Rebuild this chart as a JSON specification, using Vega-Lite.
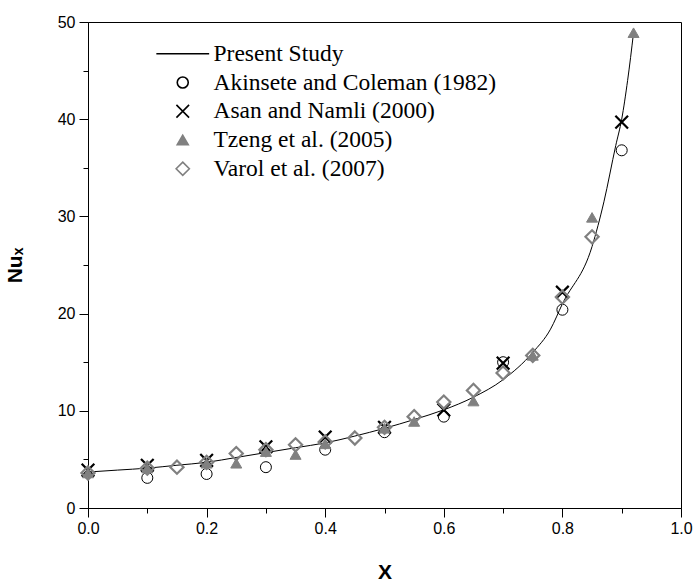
{
  "$schema": "https://vega.github.io/schema/vega-lite/v6.json",
  "width": 593,
  "height": 486,
  "autosize": {"type": "none"},
  "padding": {"left": 88, "top": 22, "right": 14, "bottom": 73},
  "background": "white",
  "config": {
    "view": {"stroke": "black", "strokeWidth": 1},
    "axis": {
      "grid": false,
      "domainColor": "black",
      "tickColor": "black",
      "labelFont": "Liberation Sans",
      "labelFontSize": 16,
      "labelColor": "black",
      "labelFlush": false,
      "labelOverlap": false,
      "titleFont": "Liberation Sans",
      "titleFontWeight": "bold",
      "titleFontSize": 21,
      "titleColor": "black"
    },
    "legend": {
      "orient": "none",
      "legendX": 83,
      "legendY": 20,
      "title": null,
      "labelFont": "Liberation Serif",
      "labelFontSize": 23.5,
      "labelColor": "black",
      "labelLimit": 0,
      "labelOffset": 19,
      "symbolSize": 121,
      "symbolStrokeWidth": 1.6,
      "rowPadding": 3.75,
      "padding": 0
    }
  },
  "data": {
    "values": [
      {"series": "Present Study", "x": 0.0, "nu": 3.7},
      {"series": "Present Study", "x": 0.05, "nu": 3.9},
      {"series": "Present Study", "x": 0.1, "nu": 4.1},
      {"series": "Present Study", "x": 0.15, "nu": 4.4},
      {"series": "Present Study", "x": 0.2, "nu": 4.7},
      {"series": "Present Study", "x": 0.25, "nu": 5.2},
      {"series": "Present Study", "x": 0.3, "nu": 5.7},
      {"series": "Present Study", "x": 0.35, "nu": 6.2},
      {"series": "Present Study", "x": 0.4, "nu": 6.7},
      {"series": "Present Study", "x": 0.45, "nu": 7.4},
      {"series": "Present Study", "x": 0.5, "nu": 8.2},
      {"series": "Present Study", "x": 0.55, "nu": 9.1},
      {"series": "Present Study", "x": 0.6, "nu": 10.1},
      {"series": "Present Study", "x": 0.65, "nu": 11.4},
      {"series": "Present Study", "x": 0.7, "nu": 13.2},
      {"series": "Present Study", "x": 0.75, "nu": 16.0},
      {"series": "Present Study", "x": 0.78, "nu": 18.4},
      {"series": "Present Study", "x": 0.8, "nu": 21.0},
      {"series": "Present Study", "x": 0.85, "nu": 26.9},
      {"series": "Present Study", "x": 0.87, "nu": 31.5},
      {"series": "Present Study", "x": 0.89, "nu": 37.3},
      {"series": "Present Study", "x": 0.9, "nu": 40.0},
      {"series": "Present Study", "x": 0.91, "nu": 44.0},
      {"series": "Present Study", "x": 0.92, "nu": 48.9},

      {"series": "Akinsete and Coleman (1982)", "x": 0.1, "nu": 3.1},
      {"series": "Akinsete and Coleman (1982)", "x": 0.2, "nu": 3.5},
      {"series": "Akinsete and Coleman (1982)", "x": 0.3, "nu": 4.2},
      {"series": "Akinsete and Coleman (1982)", "x": 0.4, "nu": 6.0},
      {"series": "Akinsete and Coleman (1982)", "x": 0.5, "nu": 7.8},
      {"series": "Akinsete and Coleman (1982)", "x": 0.6, "nu": 9.4},
      {"series": "Akinsete and Coleman (1982)", "x": 0.7, "nu": 15.0},
      {"series": "Akinsete and Coleman (1982)", "x": 0.8, "nu": 20.4},
      {"series": "Akinsete and Coleman (1982)", "x": 0.9, "nu": 36.8},

      {"series": "Asan and Namli (2000)", "x": 0.0, "nu": 3.9},
      {"series": "Asan and Namli (2000)", "x": 0.1, "nu": 4.4},
      {"series": "Asan and Namli (2000)", "x": 0.2, "nu": 4.9},
      {"series": "Asan and Namli (2000)", "x": 0.3, "nu": 6.3},
      {"series": "Asan and Namli (2000)", "x": 0.4, "nu": 7.3},
      {"series": "Asan and Namli (2000)", "x": 0.5, "nu": 8.3},
      {"series": "Asan and Namli (2000)", "x": 0.6, "nu": 10.1},
      {"series": "Asan and Namli (2000)", "x": 0.7, "nu": 14.9},
      {"series": "Asan and Namli (2000)", "x": 0.8, "nu": 22.2},
      {"series": "Asan and Namli (2000)", "x": 0.9, "nu": 39.7},

      {"series": "Tzeng et al. (2005)", "x": 0.0, "nu": 3.6},
      {"series": "Tzeng et al. (2005)", "x": 0.1, "nu": 4.1},
      {"series": "Tzeng et al. (2005)", "x": 0.2, "nu": 4.6},
      {"series": "Tzeng et al. (2005)", "x": 0.25, "nu": 4.6},
      {"series": "Tzeng et al. (2005)", "x": 0.3, "nu": 5.8},
      {"series": "Tzeng et al. (2005)", "x": 0.35, "nu": 5.5},
      {"series": "Tzeng et al. (2005)", "x": 0.4, "nu": 6.6},
      {"series": "Tzeng et al. (2005)", "x": 0.5, "nu": 8.2},
      {"series": "Tzeng et al. (2005)", "x": 0.55, "nu": 8.9},
      {"series": "Tzeng et al. (2005)", "x": 0.65, "nu": 11.0},
      {"series": "Tzeng et al. (2005)", "x": 0.75, "nu": 15.7},
      {"series": "Tzeng et al. (2005)", "x": 0.85, "nu": 29.9},
      {"series": "Tzeng et al. (2005)", "x": 0.92, "nu": 48.9},

      {"series": "Varol et al. (2007)", "x": 0.0, "nu": 3.6},
      {"series": "Varol et al. (2007)", "x": 0.1, "nu": 4.1},
      {"series": "Varol et al. (2007)", "x": 0.15, "nu": 4.2},
      {"series": "Varol et al. (2007)", "x": 0.2, "nu": 4.7},
      {"series": "Varol et al. (2007)", "x": 0.25, "nu": 5.6},
      {"series": "Varol et al. (2007)", "x": 0.3, "nu": 6.0},
      {"series": "Varol et al. (2007)", "x": 0.35, "nu": 6.5},
      {"series": "Varol et al. (2007)", "x": 0.4, "nu": 6.8},
      {"series": "Varol et al. (2007)", "x": 0.45, "nu": 7.2},
      {"series": "Varol et al. (2007)", "x": 0.5, "nu": 8.3},
      {"series": "Varol et al. (2007)", "x": 0.55, "nu": 9.4},
      {"series": "Varol et al. (2007)", "x": 0.6, "nu": 10.9},
      {"series": "Varol et al. (2007)", "x": 0.65, "nu": 12.1},
      {"series": "Varol et al. (2007)", "x": 0.7, "nu": 13.9},
      {"series": "Varol et al. (2007)", "x": 0.75, "nu": 15.7},
      {"series": "Varol et al. (2007)", "x": 0.8, "nu": 21.7},
      {"series": "Varol et al. (2007)", "x": 0.85, "nu": 27.9}
    ]
  },
  "encoding": {
    "x": {
      "field": "x",
      "type": "quantitative",
      "scale": {"domain": [0, 1], "nice": false},
      "axis": {
        "title": "X",
        "values": [0, 0.1, 0.2, 0.3, 0.4, 0.5, 0.6, 0.7, 0.8, 0.9, 1.0],
        "format": ".1f",
        "labelExpr": "round(datum.value * 10) % 2 == 0 ? datum.label : ''",
        "tickSize": {"condition": {"test": "round(datum.value * 10) % 2 == 0", "value": 9}, "value": 5},
        "labelPadding": 3,
        "titlePadding": 25
      }
    },
    "y": {
      "field": "nu",
      "type": "quantitative",
      "scale": {"domain": [0, 50], "nice": false},
      "axis": {
        "title": "Nuₓ",
        "values": [0, 5, 10, 15, 20, 25, 30, 35, 40, 45, 50],
        "labelExpr": "datum.value % 10 == 0 ? datum.label : ''",
        "tickSize": {"condition": {"test": "datum.value % 10 == 0", "value": 9}, "value": 5},
        "labelPadding": 4,
        "titlePadding": 32
      }
    },
    "stroke": {
      "field": "series",
      "type": "nominal",
      "scale": {
        "domain": ["Present Study", "Akinsete and Coleman (1982)", "Asan and Namli (2000)", "Tzeng et al. (2005)", "Varol et al. (2007)"],
        "range": ["black", "black", "black", "#808080", "#808080"]
      }
    }
  },
  "layer": [
    {
      "transform": [{"filter": "datum.series === 'Present Study'"}],
      "mark": {"type": "line", "interpolate": "monotone", "strokeWidth": 1}
    },
    {
      "transform": [{"filter": "datum.series !== 'Present Study'"}],
      "mark": {"type": "point", "size": 121, "opacity": 1},
      "encoding": {
        "shape": {
          "field": "series",
          "type": "nominal",
          "scale": {
            "domain": ["Present Study", "Akinsete and Coleman (1982)", "Asan and Namli (2000)", "Tzeng et al. (2005)", "Varol et al. (2007)"],
            "range": ["M-4.8,0L4.8,0", "circle", "M-1.15,-1.15L1.15,1.15M-1.15,1.15L1.15,-1.15", "triangle-up", "M0,-1.2L1.2,0L0,1.2L-1.2,0Z"]
          }
        },
        "fill": {
          "field": "series",
          "type": "nominal",
          "scale": {
            "domain": ["Present Study", "Akinsete and Coleman (1982)", "Asan and Namli (2000)", "Tzeng et al. (2005)", "Varol et al. (2007)"],
            "range": ["transparent", "transparent", "transparent", "#808080", "transparent"]
          }
        },
        "strokeWidth": {
          "condition": {"test": "datum.series === 'Asan and Namli (2000)' || datum.series === 'Varol et al. (2007)'", "value": 2.2},
          "value": 1
        }
      }
    }
  ]
}
